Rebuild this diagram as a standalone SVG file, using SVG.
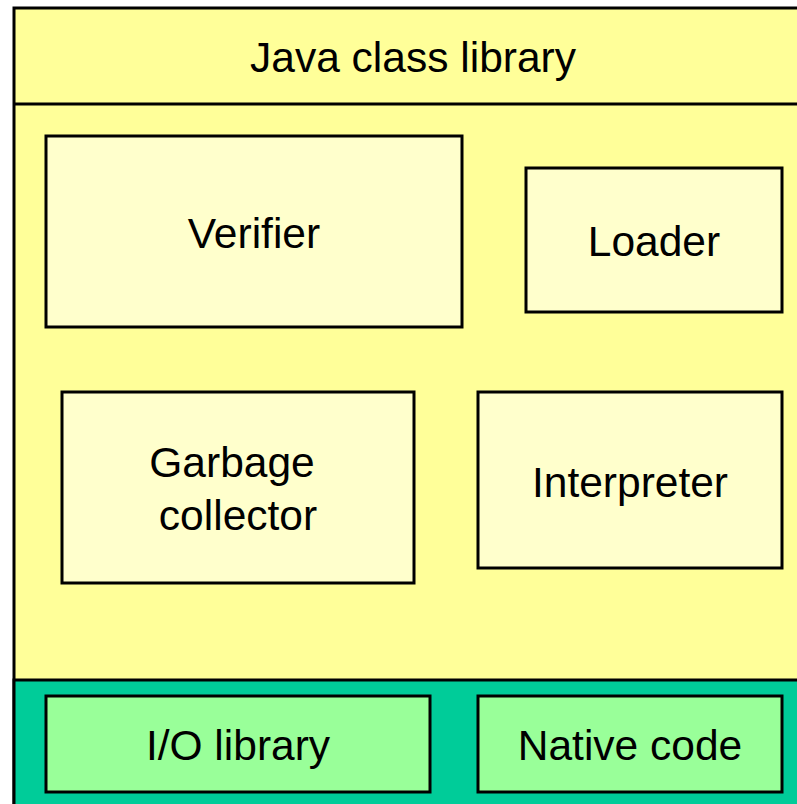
<svg xmlns="http://www.w3.org/2000/svg" width="797" height="804" viewBox="0 0 797 804">
  <style>
    .frame { stroke: #000; stroke-width: 3; }
    .vm { fill: #FFFF99; }
    .part { fill: #FFFFCC; }
    .base { fill: #00CC99; }
    .lib { fill: #99FF99; }
    text { font-family: "Liberation Sans", Arial, sans-serif; font-size: 42.5px; fill: #000; text-anchor: middle; }
  </style>
  <rect x="0" y="0" width="797" height="804" fill="#FFFFFF"/>

  <!-- JVM outer frame, extends past the right and bottom edges -->
  <g id="jvm">
    <rect class="vm frame" x="14" y="8" width="800" height="810"/>
  </g>

  <g id="class-library">
    <line class="frame" x1="14" y1="104" x2="810" y2="104"/>
    <text x="413" y="72">Java class library</text>
  </g>

  <g id="verifier">
    <rect class="part frame" x="46" y="136" width="416" height="191"/>
    <text x="254" y="248">Verifier</text>
  </g>

  <g id="loader">
    <rect class="part frame" x="526" y="168" width="256" height="144"/>
    <text x="654" y="256">Loader</text>
  </g>

  <g id="garbage-collector">
    <rect class="part frame" x="62" y="392" width="352" height="191"/>
    <text x="232" y="477">Garbage</text>
    <text x="238" y="530">collector</text>
  </g>

  <g id="interpreter">
    <rect class="part frame" x="478" y="392" width="304" height="176"/>
    <text x="630" y="497">Interpreter</text>
  </g>

  <!-- platform layer -->
  <g id="platform">
    <rect class="base frame" x="14" y="680" width="800" height="140"/>
  </g>

  <g id="io-library">
    <rect class="lib frame" x="46" y="696" width="384" height="96"/>
    <text x="238" y="760">I/O library</text>
  </g>

  <g id="native-code">
    <rect class="lib frame" x="478" y="696" width="304" height="96"/>
    <text x="630" y="760">Native code</text>
  </g>

  <g id="connectors"/>
</svg>
